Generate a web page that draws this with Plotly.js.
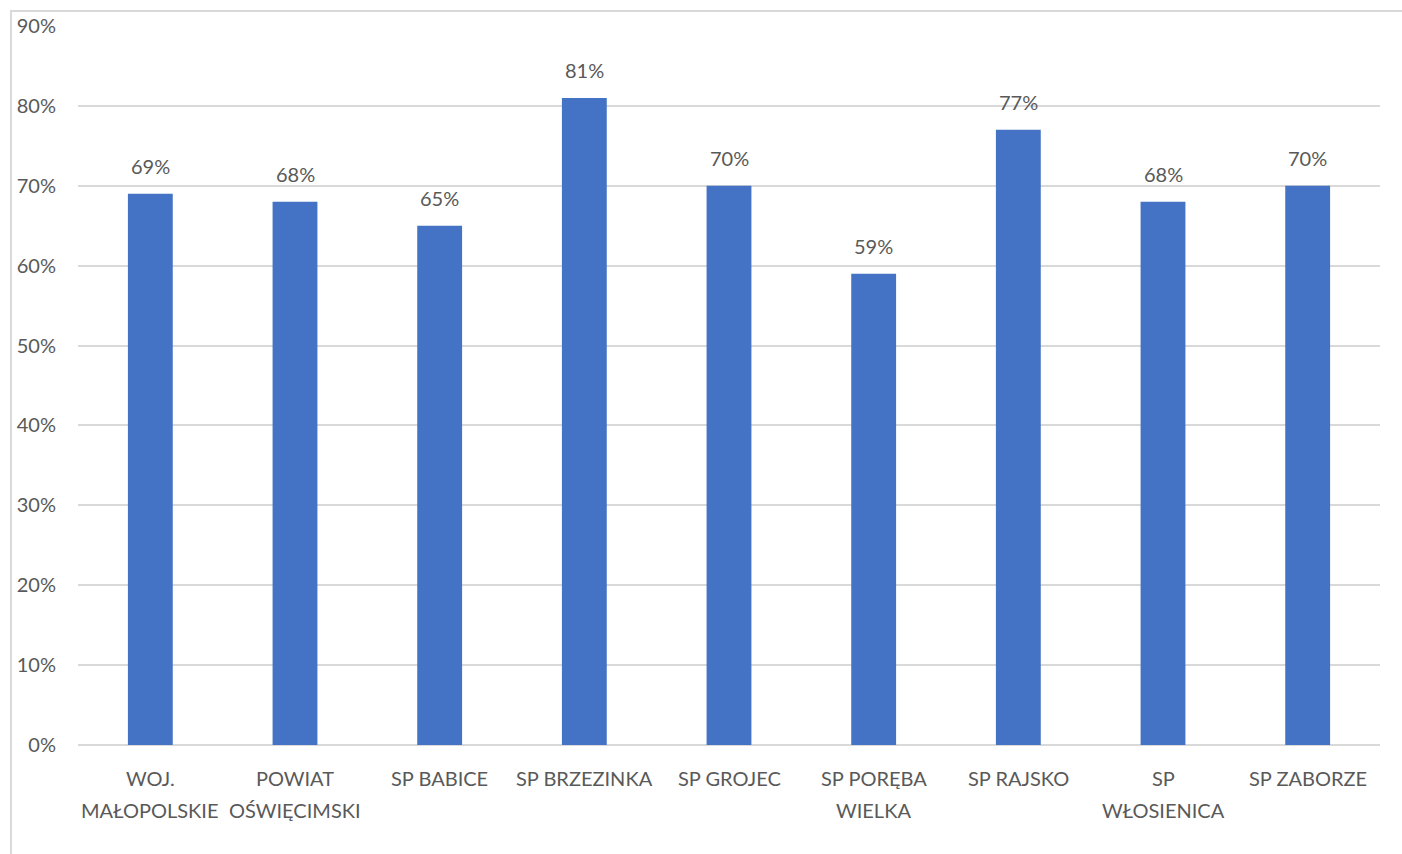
<!DOCTYPE html>
<html>
<head>
<meta charset="utf-8">
<script src="https://cdn.plot.ly/plotly-3.0.1.min.js"></script>
<style>html,body{margin:0;padding:0;background:#fff;}#chart{width:1402px;height:854px;}</style>
</head>
<body>
<div id="chart"></div>
<script>
const categories = ["WOJ.\nMAŁOPOLSKIE", "POWIAT\nOŚWIĘCIMSKI", "SP BABICE", "SP BRZEZINKA", "SP GROJEC", "SP PORĘBA\nWIELKA", "SP RAJSKO", "SP\nWŁOSIENICA", "SP ZABORZE"];
const values = [0.69, 0.68, 0.65, 0.81, 0.70, 0.59, 0.77, 0.68, 0.70];
const yTickValues = [0, 0.1, 0.2, 0.3, 0.4, 0.5, 0.6, 0.7, 0.8, 0.9];

const FONT = "Lato, 'Open Sans', sans-serif";
const TXT = "#595959";
const FS = 20;
const ids = categories.map((c, i) => "c" + i);

const annotations = [];
categories.forEach((c, i) => {
  const lines = c.split("\n");
  lines.forEach((ln, j) => {
    annotations.push({
      x: ids[i], y: 0, xref: "x", yref: "y",
      text: ln, showarrow: false, xanchor: "center", yanchor: "top",
      yshift: -19 - j * 32,
      font: {family: FONT, size: FS, color: TXT}
    });
  });
  annotations.push({
    x: ids[i], y: values[i], xref: "x", yref: "y",
    text: Math.round(values[i] * 100) + "%", showarrow: false,
    xanchor: "center", yanchor: "bottom", yshift: 14,
    font: {family: FONT, size: FS, color: TXT}
  });
});

const trace = {
  type: "bar", x: ids, y: values,
  marker: {color: "#4472C4"}, width: 0.31,
  hoverinfo: "skip"
};

const layout = {
  width: 1402, height: 854,
  margin: {l: 78, r: 22, t: 26, b: 109},
  paper_bgcolor: "#fff", plot_bgcolor: "#fff",
  showlegend: false,
  xaxis: {type: "category", showticklabels: false, showgrid: false, zeroline: false, showline: false, ticks: ""},
  yaxis: {
    range: [0, 0.9], tickvals: yTickValues, tickformat: ".0%",
    showgrid: true, gridcolor: "#d9d9d9", gridwidth: 2,
    zeroline: true, zerolinecolor: "#d9d9d9", zerolinewidth: 2,
    showline: false, ticks: "", ticklabelstandoff: 21,
    tickfont: {family: FONT, size: FS, color: TXT}
  },
  annotations: annotations,
  shapes: [{
    type: "rect", xref: "paper", yref: "paper",
    x0: -0.0515, x1: 1.2, y0: -0.3, y1: 1.0209,
    line: {color: "#d9d9d9", width: 2}, fillcolor: "rgba(0,0,0,0)", layer: "below"
  }]
};

Plotly.newPlot("chart", [trace], layout, {displayModeBar: false, staticPlot: true});
</script>
</body>
</html>
